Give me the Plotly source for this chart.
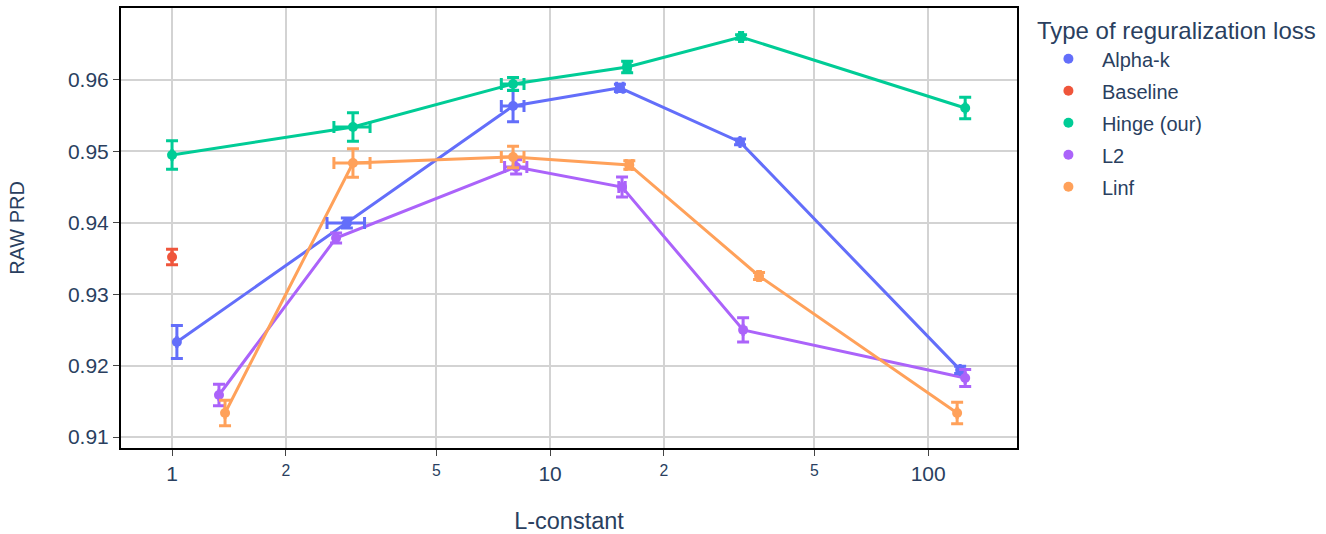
import plotly.graph_objects as go

# ---- data ----
series_names = ["Alpha-k", "Baseline", "Hinge (our)", "L2", "Linf"]
colors = ["#636efa", "#EF553B", "#00cc96", "#ab63fa", "#FFA15A"]

alpha_x = [1.03, 2.90, 7.98, 15.3, 31.8, 121.5]
alpha_y = [0.9233, 0.93997, 0.95636, 0.9589, 0.95132, 0.9194]
alpha_ey = [0.0023, 0.0007, 0.0022, 0.0005, 0.0004, 0.0005]
alpha_ex = [0.0, 0.33, 0.55, 0.3, 0.0, 0.0]

base_x = [1.0]
base_y = [0.93521]
base_ey = [0.0011]
base_ex = [0.0]

hinge_x = [1.0, 3.01, 7.98, 15.99, 32.0, 125.3]
hinge_y = [0.9495, 0.95342, 0.95944, 0.96182, 0.96602, 0.95608]
hinge_ey = [0.002, 0.002, 0.0009, 0.0008, 0.0003, 0.0015]
hinge_ex = [0.0, 0.33, 0.55, 0.3, 0.3, 0.0]

l2_x = [1.331, 2.716, 8.13, 15.5, 32.4, 125.3]
l2_y = [0.91588, 0.93787, 0.94782, 0.9450, 0.9250, 0.91826]
l2_ey = [0.0015, 0.0007, 0.001, 0.0014, 0.0017, 0.0012]
l2_ex = [0.0, 0.0, 0.55, 0.3, 0.0, 0.0]

linf_x = [1.381, 3.01, 7.98, 16.2, 35.7, 119.3]
linf_y = [0.91336, 0.94838, 0.94922, 0.9481, 0.93255, 0.91336]
linf_ey = [0.0018, 0.002, 0.0015, 0.0006, 0.0005, 0.0015]
linf_ex = [0.0, 0.33, 0.55, 0.3, 0.3, 0.0]

series = [
    (alpha_x, alpha_y, alpha_ex, alpha_ey, True),
    (base_x, base_y, base_ex, base_ey, False),
    (hinge_x, hinge_y, hinge_ex, hinge_ey, True),
    (l2_x, l2_y, l2_ex, l2_ey, True),
    (linf_x, linf_y, linf_ex, linf_ey, True),
]

y_tickvals = [0.91, 0.92, 0.93, 0.94, 0.95, 0.96]

fig = go.Figure()

# connecting lines (no legend)
for name, color, (xs, ys, exs, eys, has_line) in zip(series_names, colors, series):
    if has_line:
        fig.add_trace(go.Scatter(
            x=xs, y=ys, mode="lines", line=dict(color=color, width=3),
            legendgroup=name, showlegend=False, hoverinfo="skip"))

# markers with error bars
for name, color, (xs, ys, exs, eys, has_line) in zip(series_names, colors, series):
    fig.add_trace(go.Scatter(
        x=xs, y=ys, mode="markers", name=name, legendgroup=name,
        marker=dict(color=color, size=10),
        error_y=dict(type="data", array=eys, visible=True, color=color, thickness=3, width=6),
        error_x=dict(type="data", array=exs, visible=True, color=color, thickness=3, width=6),
    ))

font_family = "Liberation Sans, Arial, sans-serif"
fig.update_layout(
    width=1326, height=534,
    margin=dict(l=121, r=309, t=8, b=86, autoexpand=False),
    paper_bgcolor="white", plot_bgcolor="white",
    font=dict(family=font_family, color="#2a3f5f", size=21),
    legend=dict(title=dict(text="Type of reguralization loss", font=dict(size=24)),
                font=dict(size=20), tracegroupgap=3, itemwidth=57),
)
fig.update_xaxes(
    type="log", range=[-0.135, 2.235], dtick="D2", automargin=False,
    title=dict(text="L-constant", font=dict(size=23.5), standoff=38),
    showgrid=True, gridcolor="#d3d3d3", gridwidth=2,
    showline=True, linecolor="black", linewidth=2, mirror=True,
    ticks="outside", ticklen=6, tickcolor="#444", zeroline=False,
)
fig.update_yaxes(
    range=[0.90846, 0.97008], tickvals=y_tickvals, automargin=False,
    title=dict(text="RAW PRD", font=dict(size=20), standoff=38),
    showgrid=True, gridcolor="#d3d3d3", gridwidth=2,
    showline=True, linecolor="black", linewidth=2, mirror=True,
    ticks="outside", ticklen=6, tickcolor="#444", zeroline=False,
)

fig.write_html("out.html")
